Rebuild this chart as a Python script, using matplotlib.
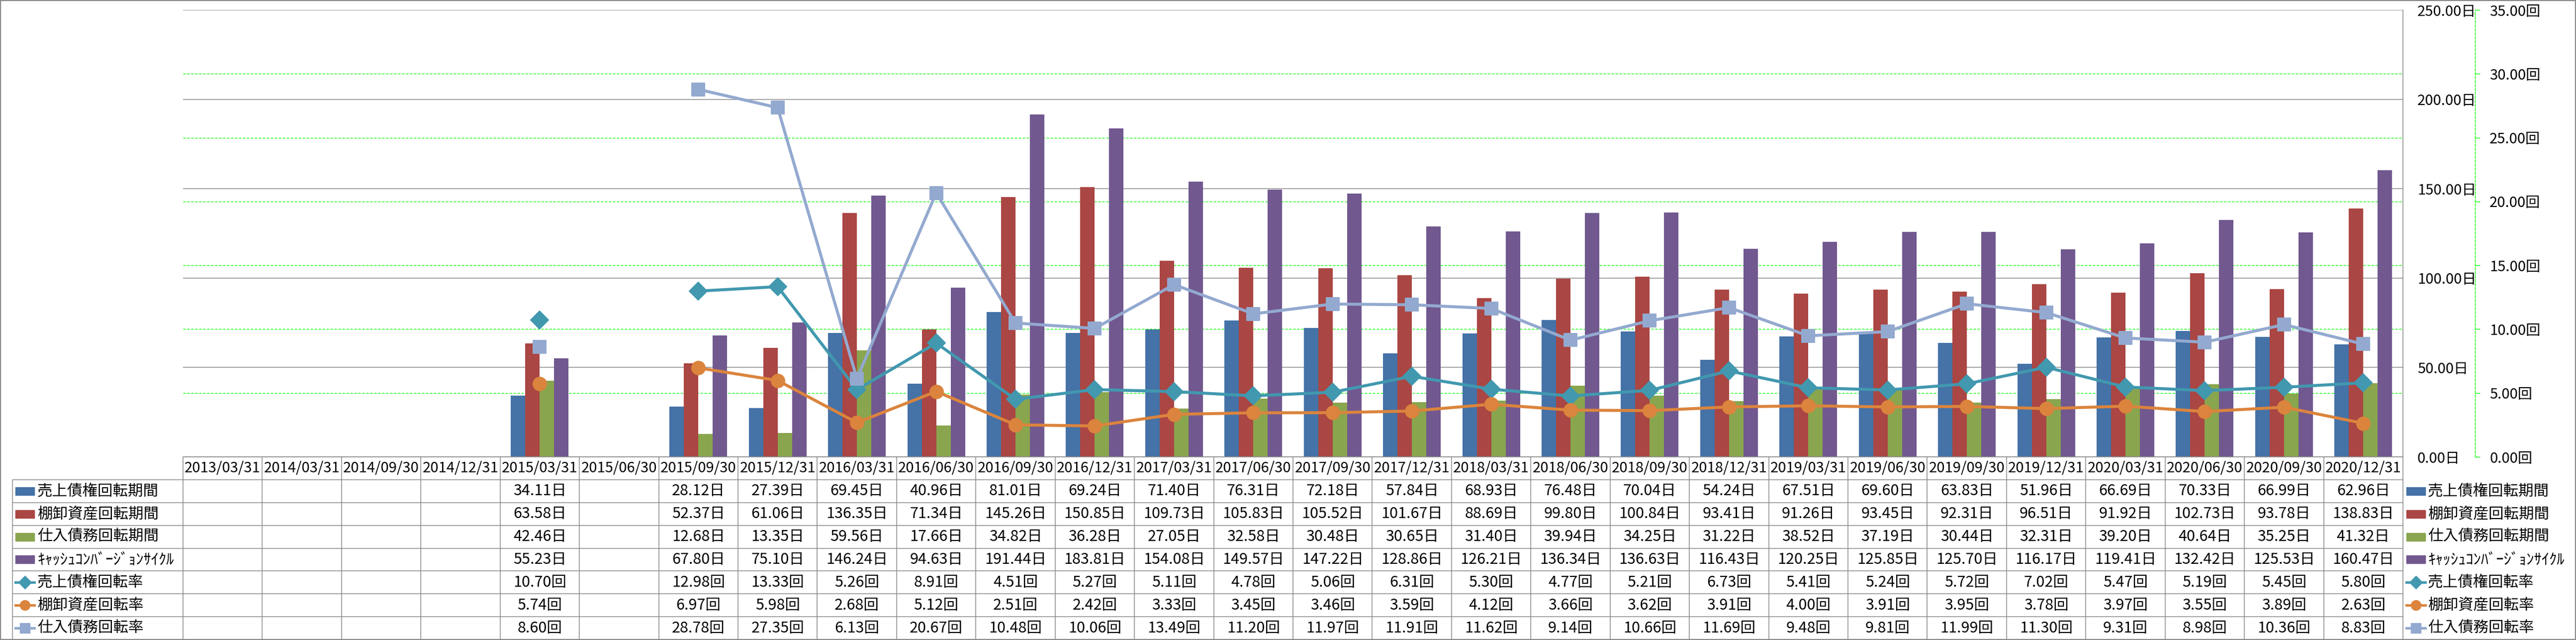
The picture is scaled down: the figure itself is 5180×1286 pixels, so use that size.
import numpy as np
import matplotlib
matplotlib.use("Agg")
import matplotlib.pyplot as plt
import matplotlib.transforms as mtrans
from matplotlib.markers import MarkerStyle
from matplotlib.patches import Rectangle
from matplotlib.lines import Line2D
from matplotlib.ticker import FuncFormatter, MultipleLocator

plt.rcParams['font.family'] = ['Noto Sans CJK JP', 'DejaVu Sans']
plt.rcParams['lines.scale_dashes'] = False

nan = np.nan

dates = ['2013/03/31', '2014/03/31', '2014/09/30', '2014/12/31', '2015/03/31', '2015/06/30',
         '2015/09/30', '2015/12/31', '2016/03/31', '2016/06/30', '2016/09/30', '2016/12/31',
         '2017/03/31', '2017/06/30', '2017/09/30', '2017/12/31', '2018/03/31', '2018/06/30',
         '2018/09/30', '2018/12/31', '2019/03/31', '2019/06/30', '2019/09/30', '2019/12/31',
         '2020/03/31', '2020/06/30', '2020/09/30', '2020/12/31']

# 日 (days) -> bars on the primary axis
ar_days = [nan, nan, nan, nan, 34.11, nan, 28.12, 27.39, 69.45, 40.96, 81.01, 69.24, 71.40, 76.31,
           72.18, 57.84, 68.93, 76.48, 70.04, 54.24, 67.51, 69.60, 63.83, 51.96, 66.69, 70.33, 66.99, 62.96]
inv_days = [nan, nan, nan, nan, 63.58, nan, 52.37, 61.06, 136.35, 71.34, 145.26, 150.85, 109.73, 105.83,
            105.52, 101.67, 88.69, 99.80, 100.84, 93.41, 91.26, 93.45, 92.31, 96.51, 91.92, 102.73, 93.78, 138.83]
ap_days = [nan, nan, nan, nan, 42.46, nan, 12.68, 13.35, 59.56, 17.66, 34.82, 36.28, 27.05, 32.58,
           30.48, 30.65, 31.40, 39.94, 34.25, 31.22, 38.52, 37.19, 30.44, 32.31, 39.20, 40.64, 35.25, 41.32]
ccc_days = [nan, nan, nan, nan, 55.23, nan, 67.80, 75.10, 146.24, 94.63, 191.44, 183.81, 154.08, 149.57,
            147.22, 128.86, 126.21, 136.34, 136.63, 116.43, 120.25, 125.85, 125.70, 116.17, 119.41, 132.42, 125.53, 160.47]

# 回 (turns) -> lines on the secondary axis
ar_turn = [nan, nan, nan, nan, 10.70, nan, 12.98, 13.33, 5.26, 8.91, 4.51, 5.27, 5.11, 4.78,
           5.06, 6.31, 5.30, 4.77, 5.21, 6.73, 5.41, 5.24, 5.72, 7.02, 5.47, 5.19, 5.45, 5.80]
inv_turn = [nan, nan, nan, nan, 5.74, nan, 6.97, 5.98, 2.68, 5.12, 2.51, 2.42, 3.33, 3.45,
            3.46, 3.59, 4.12, 3.66, 3.62, 3.91, 4.00, 3.91, 3.95, 3.78, 3.97, 3.55, 3.89, 2.63]
ap_turn = [nan, nan, nan, nan, 8.60, nan, 28.78, 27.35, 6.13, 20.67, 10.48, 10.06, 13.49, 11.20,
           11.97, 11.91, 11.62, 9.14, 10.66, 11.69, 9.48, 9.81, 11.99, 11.30, 9.31, 8.98, 10.36, 8.83]

bar_names = ['売上債権回転期間', '棚卸資産回転期間', '仕入債務回転期間', 'ｷｬｯｼｭｺﾝﾊﾞｰｼﾞｮﾝｻｲｸﾙ']
line_names = ['売上債権回転率', '棚卸資産回転率', '仕入債務回転率']
bar_data = [ar_days, inv_days, ap_days, ccc_days]
line_data = [ar_turn, inv_turn, ap_turn]
bar_colors = ['#4572A7', '#AA4643', '#89A54E', '#71588F']
line_colors = ['#4198AF', '#DB843D', '#93A9CF']
line_markers = ['D', 'o', 's']

GRAY = '#868686'
GREEN = '#00FF00'

W, H, DPI = 5180, 1286, 100
PT = 72 / DPI  # points per pixel

fig = plt.figure(figsize=(W / DPI, H / DPI), dpi=DPI)
fig.patches.append(Rectangle((0, 0), 1, 1, transform=fig.transFigure, fill=False,
                             ec=GRAY, lw=4 * PT, zorder=10))

L, R, T, B = 368, 4832, 20, 918
ax = fig.add_axes([L / W, 1 - B / H, (R - L) / W, (B - T) / H])
n = len(dates)
x = np.arange(n)
colw = (R - L) / n

# bars
bw = 0.182
for k, (vals, c) in enumerate(zip(bar_data, bar_colors)):
    ax.bar(x + (k - 1.5) * bw, vals, width=bw, color=c, zorder=2)

# lines on the secondary axis
ax2 = ax.twinx()
for vals, c, m in zip(line_data, line_colors, line_markers):
    ms = 26 * PT if m == 'D' else 27 * PT
    ax2.plot(x, vals, color=c, lw=6 * PT, marker=MarkerStyle(m, joinstyle='round'),
             markersize=ms, markeredgewidth=2 * PT, markeredgecolor=c, zorder=3)

ax.set_xlim(-0.5, n - 0.5)
ax.set_ylim(0, 250)
ax.yaxis.set_major_locator(MultipleLocator(50))
ax.yaxis.set_major_formatter(FuncFormatter(lambda v, p: f'{v:.2f}日'))
ax.yaxis.tick_right()
ax.tick_params(axis='y', length=0, pad=29 * PT, labelsize=21)
ax.set_xticks([])
ax.set_axisbelow(True)
ax.grid(axis='y', color=GRAY, lw=1.5 * PT)
for s in ['left', 'top', 'bottom']:
    ax.spines[s].set_visible(False)
ax.spines['right'].set_color(GRAY)
ax.spines['right'].set_linewidth(1.5 * PT)

ax2.set_ylim(0, 35)
ax2.yaxis.set_major_locator(MultipleLocator(5))
ax2.yaxis.set_major_formatter(FuncFormatter(lambda v, p: f'{v:.2f}回'))
for s in ['left', 'top', 'bottom']:
    ax2.spines[s].set_visible(False)
ax2.spines['right'].set_position(('outward', 145 * PT))
ax2.spines['right'].set_color(GREEN)
ax2.spines['right'].set_linestyle((0, (5 * PT, 3 * PT)))
ax2.spines['right'].set_linewidth(1.4 * PT)
ax2.tick_params(axis='y', direction='out', length=10 * PT, width=1.4 * PT, color=GREEN,
                pad=19 * PT, labelsize=21)

# green dashed gridlines of the secondary axis, kept under the bars
trans = mtrans.blended_transform_factory(ax.transAxes, ax2.transData)
for v in np.arange(5, 35, 5):
    ax.plot([0, 1], [v, v], transform=trans, color=GREEN, lw=1.4 * PT,
            dashes=(5 * PT, 3 * PT), zorder=0.4)

# data table under the plot
TB = 1285
tab = fig.add_axes([25 / W, 1 - TB / H, (R - 25) / W, (TB - B) / H])
x0 = -0.5 - (L - 25) / colw
tab.set_xlim(x0, n - 0.5)
tab.set_ylim(8, 0)
tab.axis('off')


def px2x(px):
    return -0.5 + (px - L) / colw


lk = dict(color=GRAY, lw=1.5 * PT, clip_on=False, solid_capstyle='butt')
tab.plot([-0.5, n - 0.5], [0, 0], **lk)
for r in range(1, 9):
    tab.plot([x0, n - 0.5], [r, r], **lk)
tab.plot([x0, x0], [1, 8], **lk)
for i in range(n + 1):
    tab.plot([i - 0.5, i - 0.5], [0, 8], **lk)

FS = 22
for i, d in enumerate(dates):
    tab.text(i, 0.5, d, ha='center', va='center', fontsize=21)

rows = [(nm, v, '日') for nm, v in zip(bar_names, bar_data)] + \
       [(nm, v, '回') for nm, v in zip(line_names, line_data)]
for r, (nm, vals, unit) in enumerate(rows):
    yc = r + 1.5
    for i, v in enumerate(vals):
        if not np.isnan(v):
            tab.text(i, yc, f'{v:.2f}{unit}', ha='center', va='center', fontsize=FS)

# legend keys: in the row-label column and again on the right side
def draw_key(r, xk, xt):
    yc = r + 1.5
    nm = rows[r][0]
    if r < 4:
        tab.add_patch(Rectangle((px2x(xk), yc - 8 / 46), 38 / colw, 16 / 46,
                                color=bar_colors[r], clip_on=False))
    else:
        c = line_colors[r - 4]
        m = line_markers[r - 4]
        tab.add_line(Line2D([px2x(xk), px2x(xk + 38)], [yc, yc], color=c, lw=5 * PT,
                            clip_on=False))
        tab.add_line(Line2D([px2x(xk + 19)], [yc], color=c, marker=MarkerStyle(m, joinstyle='round'),
                            markersize=(18 if m == 'D' else 20) * PT, markeredgecolor=c,
                            clip_on=False))
    tab.text(px2x(xt), yc, nm, ha='left', va='center', fontsize=FS, clip_on=False)


for r in range(7):
    draw_key(r, 31, 75)
    draw_key(r, 4839, 4882)

fig.savefig('out.png', dpi=DPI)
